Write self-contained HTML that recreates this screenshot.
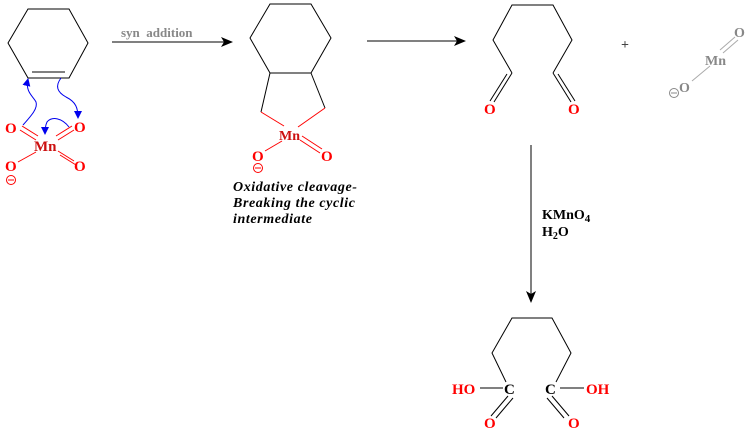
<!DOCTYPE html>
<html><head><meta charset="utf-8"><style>
html,body{margin:0;padding:0;background:#fff;width:751px;height:430px;overflow:hidden}
svg{display:block}
text{font-family:"Liberation Serif",serif;font-weight:bold}
</style></head><body>
<svg width="751" height="430" viewBox="0 0 751 430" xmlns="http://www.w3.org/2000/svg">
<defs>
<marker id="ah" markerWidth="12" markerHeight="10" refX="11" refY="5" orient="auto" markerUnits="userSpaceOnUse">
<path d="M0,0 L12,5 L0,10 L3,5 z" fill="#000"/></marker>
<marker id="bh" markerWidth="8" markerHeight="8" refX="7" refY="4" orient="auto" markerUnits="userSpaceOnUse">
<path d="M0,0 L8,4 L0,8 z" fill="#0000ee"/></marker>
</defs>
<g stroke="#000" stroke-width="1" fill="none">
<polygon points="28,9 69,9 88,43 69,78 28,78 8,43"/>
<line x1="32" y1="72" x2="65" y2="72"/>
<line x1="112" y1="42" x2="232" y2="42" marker-end="url(#ah)"/>
<line x1="367" y1="41" x2="465" y2="41" marker-end="url(#ah)"/>
<line x1="531" y1="145" x2="531" y2="302" marker-end="url(#ah)"/>
<polygon points="270,4 311,4 331,38 311,73 270,73 250,38"/>
<line x1="270" y1="73" x2="261" y2="112"/>
<line x1="311" y1="73" x2="325" y2="108"/>
<polyline points="512,73 493,40 512,5 553,5 572,40 553,73"/>
<line x1="512" y1="73" x2="494" y2="102"/>
<line x1="507" y1="74" x2="490" y2="101"/>
<line x1="553" y1="73" x2="571" y2="102"/>
<line x1="558" y1="74" x2="575" y2="101"/>
<polyline points="506,382 492,353 512,318 552,318 571,353 556,382"/>
<line x1="480" y1="388" x2="503" y2="388"/>
<line x1="560" y1="388" x2="584" y2="388"/>
<line x1="508" y1="396" x2="491" y2="416"/>
<line x1="513" y1="398" x2="496" y2="418"/>
<line x1="552" y1="396" x2="569" y2="416"/>
<line x1="547" y1="398" x2="564" y2="418"/>
</g>
<g stroke="#ff0000" stroke-width="1" fill="none">
<line x1="22" y1="126" x2="38" y2="136"/><line x1="20" y1="130" x2="36" y2="140"/>
<line x1="56" y1="136" x2="72" y2="126"/><line x1="58" y1="140" x2="74" y2="130"/>
<line x1="36" y1="152" x2="18" y2="162"/>
<line x1="58" y1="151" x2="74" y2="161"/><line x1="60" y1="155" x2="76" y2="165"/>
<line x1="261" y1="112" x2="284" y2="126"/>
<line x1="325" y1="108" x2="298" y2="127"/>
<line x1="282" y1="141" x2="265" y2="151"/>
<line x1="300" y1="140" x2="320" y2="153"/><line x1="302" y1="136" x2="322" y2="149"/>
</g>
<g stroke="#aaa" stroke-width="1">
<line x1="710" y1="66" x2="692" y2="81"/>
<line x1="720" y1="50" x2="735" y2="37"/><line x1="723" y1="53" x2="738" y2="40"/>
</g>
<g stroke="#0000ee" stroke-width="1" fill="none">
<path d="M23,125 C32,115 38,108 36,102 C33,96 25,92 28,79" marker-end="url(#bh)"/>
<path d="M61,78 C55,86 57,92 66,97 C76,102 78,108 78,118" marker-end="url(#bh)"/>
<path d="M69,127 C62,118 52,116 47,122 C45,126 45,130 45,134" marker-end="url(#bh)"/>
</g>
<g fill="#ff0000" font-size="15">
<text x="5" y="133">O</text>
<text x="74" y="132">O</text>
<text x="5" y="171">O</text>
<text x="74" y="171">O</text>
<text x="34" y="151" fill="#cc1010">Mn</text>
<text x="279" y="140" fill="#cc1010" font-size="14">Mn</text>
<text x="252" y="161">O</text>
<text x="321" y="161">O</text>
<text x="484" y="114">O</text>
<text x="568" y="114">O</text>
<text x="452" y="394">HO</text>
<text x="586" y="394">OH</text>
<text x="484" y="428">O</text>
<text x="568" y="428">O</text>
</g>
<g fill="none" stroke="#ff0000" stroke-width="1">
<circle cx="11" cy="180" r="4.5"/><line x1="8" y1="180" x2="14" y2="180"/>
<circle cx="258" cy="168" r="4.5"/><line x1="255" y1="168" x2="261" y2="168"/>
</g>
<g fill="none" stroke="#888" stroke-width="1">
<circle cx="674" cy="93" r="4.5"/><line x1="671" y1="93" x2="677" y2="93"/>
</g>
<text x="504" y="394" font-size="15" fill="#000">C</text>
<text x="545" y="394" font-size="15" fill="#000">C</text>
<text x="121" y="37" font-size="13" fill="#888">syn&#160; addition</text>
<text x="621" y="49" font-size="14" fill="#444">+</text>
<text x="705" y="65" font-size="14" fill="#888">Mn</text>
<text x="734" y="37" font-size="14" fill="#888">O</text>
<text x="679" y="92" font-size="14" fill="#888">O</text>
<text x="542" y="219" font-size="14" fill="#000">KMnO<tspan font-size="11" dy="3">4</tspan></text>
<text x="542" y="236" font-size="14" fill="#000">H<tspan font-size="10" dy="3">2</tspan><tspan dy="-3">O</tspan></text>
<g font-size="14" font-style="italic" fill="#000" letter-spacing="0.6">
<text x="233" y="191">Oxidative cleavage-</text>
<text x="233" y="207">Breaking the cyclic</text>
<text x="233" y="223">intermediate</text>
</g>
</svg>
</body></html>
